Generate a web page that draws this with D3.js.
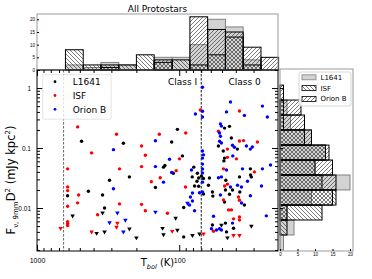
<!DOCTYPE html>
<html>
<head>
<meta charset="utf-8">
<script src="https://cdn.jsdelivr.net/npm/d3@7"></script>
<style>
body { margin: 0; background: #fff; }
svg { font-family: "DejaVu Sans", sans-serif; }
</style>
</head>
<body>
<svg width="372" height="279"></svg>
<script>
// [Tbol (K), F (mJy kpc^2)]
var l1641_det = [[486,0.13],[610,0.016],[435,0.019],[346,0.0165],[335,0.010],[309,0.029],[247,0.12],[224,0.033],[147,0.022],[129,0.048],[126,0.051],[113,0.126],[110,0.038],[103,0.205],[95,0.074],[93,0.0102],[93,0.0033],
  [44.3,0.23],[48,0.215],[43,0.147],[53,0.108],[39,0.096],[49,0.089],[48,0.068],[48.5,0.061],[79,0.048],[74.5,0.038],[81,0.033],[73,0.0316],[69.8,0.034],[75,0.028],[67.5,0.031],[61.3,0.0316],[31.6,0.045],[47,0.029],[37.7,0.033],[31.5,0.0355],[31.1,0.033],[78,0.0233],[73,0.023],[67.5,0.0171],[62.3,0.024],[58.4,0.0185],[58,0.0158],[47.3,0.02],[44.3,0.017],[42.2,0.02],[37.5,0.0185],[48,0.0126],[34.8,0.0112],[47.3,0.0056],[58.4,0.0052],[46.5,0.004],[41.5,0.0046]]
var l1641_lim = [[562,0.0074],[346,0.0083],[381,0.0038],[335,0.004],[224,0.0045],[200,0.0032],[131,0.0046],[129,0.0036],[106,0.0068],[103,0.0043],[80.7,0.0035],[72,0.0037],[50.5,0.0052],[31.1,0.005],[45.8,0.0032]]

var isf_det = [[518,0.225],[413,0.083],[609,0.045],[609,0.0225],[609,0.0195],[510,0.0165],[518,0.0122],[609,0.0107],[609,0.0059],[609,0.0055],[609,0.0051],[276,0.17],[263,0.045],[184,0.108],[173,0.076],[184,0.049],[157,0.0275],[138,0.17],[136,0.032],[263,0.0117],[184,0.0115],[173,0.009],[375,0.0077],[121,0.0082],[99.6,0.066],[105,0.042],[90,0.178],[90.4,0.0224],
  [71,0.43],[37.7,0.414],[53,0.19],[37.7,0.131],[35.3,0.133],[28.2,0.126],[45.8,0.096],[45.8,0.07],[39.6,0.066],[48.8,0.045],[29.6,0.04],[48,0.0233],[45.8,0.025],[48.8,0.0136],[38.3,0.0153],[37.7,0.0135],[45,0.0093],[42.9,0.0093],[41.5,0.0066],[37.7,0.0071],[37.7,0.0063],[57.4,0.0041]]
var isf_lim = [[682,0.0046],[413,0.004],[272,0.0056],[276,0.0048],[112,0.0041],[67.5,0.0037],[41.5,0.0035],[37.7,0.0035]]

var orionb_det = [[290,0.094],[290,0.021],[147,0.132],[147,0.049],[129,0.027],[117,0.065],[113,0.039],
  [68.6,1.03],[76.9,0.37],[68.6,0.41],[68.6,0.33],[43.6,0.585],[46.5,0.4],[34.8,0.35],[26,0.5],[24,0.33],[51.3,0.253],[50.5,0.232],[52.1,0.178],[51.3,0.157],[52,0.13],[50.5,0.121],[42.2,0.111],[40.9,0.103],[33.7,0.108],[31.6,0.096],[30.6,0.104],[68.6,0.089],[67.5,0.077],[42,0.074],[68.6,0.068],[68.6,0.054],[22.8,0.052],[82,0.043],[68.6,0.0447],[68.6,0.0383],[68.6,0.027],[35.9,0.045],[26,0.045],[46.5,0.043],[53,0.032],[50.5,0.033],[33.1,0.028],[72,0.018],[68.6,0.0185],[51.3,0.0165],[43.6,0.0224],[38.9,0.024],[36.5,0.0224],[26.4,0.0233],[80.7,0.0178],[83.4,0.0153],[80.7,0.0131],[84.7,0.0112],[78,0.009],[36.5,0.0121],[31.6,0.016],[24.4,0.0074],[57.4,0.0073],[42.2,0.0056],[59.3,0.0045],[54.7,0.0043],[52.1,0.0045],[50.5,0.0043]]
var orionb_lim = [[309,0.0057],[272,0.0083],[247,0.004],[239,0.0063],[147,0.0086],[87.5,0.0121]]

// Tbol histogram (top), bin edges in K, counts per bin
var tbol_edges = [631, 473, 355, 266, 200, 150, 112, 84.1, 63.1, 47.3, 35.5, 26.6, 20.0]
var tbol_l1641 = [2, 1, 3, 2, 0, 5, 5, 10, 20, 17, 4, 0]
var tbol_isf = [8, 2, 2, 2, 6, 3, 4, 2, 6, 13, 2, 0]
var tbol_orionb = [0, 0, 1, 0, 0, 4, 0, 21, 16, 15, 9, 5]

// flux histogram (right), bin edges in mJy kpc^2
var flux_edges = [1.12, 0.631, 0.355, 0.2, 0.112, 0.0631, 0.0355, 0.02, 0.0112, 0.00631, 0.00355, 0.002]
var flux_l1641 = [0, 2, 3, 9, 13, 10, 20, 9, 2, 4, 1]
var flux_isf = [0, 1, 1, 7, 13, 10, 12, 16, 12, 2, 0]
var flux_orionb = [1, 6, 7, 9, 14, 15, 16, 15, 2, 0, 0]

var x_major = [1000, 100]
var x_minor = [900, 800, 700, 600, 500, 400, 300, 200, 90, 80, 70, 60, 50, 40, 30]
var y_major = [1, 0.1, 0.01]
var y_minor = [2, 0.9, 0.8, 0.7, 0.6, 0.5, 0.4, 0.3, 0.2, 0.09, 0.08, 0.07, 0.06, 0.05, 0.04, 0.03, 0.02, 0.009, 0.008, 0.007, 0.006, 0.005, 0.004, 0.003, 0.002]
var y_labels = {1: '1', 0.1: '0.1', 0.01: '0.01'}
var count_ticks = [0, 5, 10, 15, 20]

var svg = d3.select('svg')
svg.append('rect').attr('width', 372).attr('height', 279).style('fill', 'white')

var defs = svg.append('defs')
function hatch(id, d) {
  defs.append('pattern').attr('id', id)
    .attr('patternUnits', 'userSpaceOnUse').attr('width', 4).attr('height', 4)
    .append('path').attr('d', d)
    .style('stroke', '#222').style('stroke-width', 0.6).style('fill', 'none')
}
hatch('back', 'M0,0L4,4M-1,3L1,5M3,-1L5,1')
hatch('fwd', 'M0,4L4,0M-1,1L1,-1M3,5L5,3')

var mapx = d3.scaleLog().domain([1000, 20.2]).range([37, 278])
var mapy = d3.scaleLog().domain([0.00192, 2.0]).range([251, 70])
var hy = d3.scaleLinear().domain([0, 22.1]).range([70, 14])
var hx = d3.scaleLinear().domain([0, 20]).range([280, 350])

var styles = [
  {name: 'L1641', fill: '#d3d3d3', stroke: '#808080', top: tbol_l1641, right: flux_l1641},
  {name: 'ISF', fill: 'url(#back)', stroke: 'black', top: tbol_isf, right: flux_isf},
  {name: 'Orion B', fill: 'url(#fwd)', stroke: 'black', top: tbol_orionb, right: flux_orionb}
]

// ---- top histogram
styles.forEach(function(s) {
  svg.append('g').selectAll('rect')
    .data(s.top.map(function(c, i) { return {c: c, i: i} }).filter(function(d) { return d.c > 0 }))
    .enter().append('rect')
    .attr('x', function(d) { return mapx(tbol_edges[d.i]) })
    .attr('width', function(d) { return mapx(tbol_edges[d.i + 1]) - mapx(tbol_edges[d.i]) })
    .attr('y', function(d) { return hy(d.c) })
    .attr('height', function(d) { return hy(0) - hy(d.c) })
    .style('fill', s.fill).style('stroke', s.stroke).style('stroke-width', 1)
})
svg.append('rect').attr('x', 37).attr('y', 14).attr('width', 241).attr('height', 56)
  .style('fill', 'none').style('stroke', '#999').style('stroke-width', 1)
var ta = svg.append('g').attr('transform', 'translate(37,0)')
  .call(d3.axisLeft(hy).tickValues(count_ticks).tickSize(-2).tickPadding(2))
ta.select('.domain').remove()
ta.selectAll('text').style('font-size', '4.5px')
svg.append('text').attr('x', 157.5).attr('y', 11.5).attr('text-anchor', 'middle')
  .style('font-size', '9px').text('All Protostars')

// ---- right histogram
styles.forEach(function(s) {
  svg.append('g').selectAll('rect')
    .data(s.right.map(function(c, i) { return {c: c, i: i} }).filter(function(d) { return d.c > 0 }))
    .enter().append('rect')
    .attr('y', function(d) { return mapy(flux_edges[d.i]) })
    .attr('height', function(d) { return mapy(flux_edges[d.i + 1]) - mapy(flux_edges[d.i]) })
    .attr('x', hx(0))
    .attr('width', function(d) { return hx(d.c) - hx(0) })
    .style('fill', s.fill).style('stroke', s.stroke).style('stroke-width', 1)
})
svg.append('rect').attr('x', 280).attr('y', 69).attr('width', 73).attr('height', 182)
  .style('fill', 'none').style('stroke', '#999').style('stroke-width', 1)
var ra = svg.append('g').attr('transform', 'translate(0,251)')
  .call(d3.axisBottom(hx).tickValues(count_ticks).tickSize(-2).tickPadding(2.3))
ra.select('.domain').remove()
ra.selectAll('text').style('font-size', '4.5px')
var rl = svg.append('g').attr('transform', 'translate(280,0)')
  .call(d3.axisLeft(mapy).tickValues(y_major).tickSize(-3).tickFormat(''))
rl.select('.domain').remove()

// right legend
var hl = svg.append('g')
hl.append('rect').attr('x', 299).attr('y', 72).attr('width', 52).attr('height', 34).attr('rx', 2)
  .style('fill', 'white').style('fill-opacity', 0.85).style('stroke', '#ccc').style('stroke-width', 0.8)
styles.forEach(function(s, i) {
  var yy = 77.3 + i * 10.8
  hl.append('rect').attr('x', 302).attr('y', yy - 2.5).attr('width', 14).attr('height', 5)
    .style('fill', s.fill).style('stroke', s.stroke).style('stroke-width', 0.8)
  hl.append('text').attr('x', 320.5).attr('y', yy + 2.4).style('font-size', '7px').text(s.name)
})

// ---- main scatter panel
var main = svg.append('g')
main.append('line').attr('x1', mapx(650)).attr('x2', mapx(650)).attr('y1', 70).attr('y2', 251)
  .style('stroke', '#555').style('stroke-width', 0.9).style('stroke-dasharray', '2.5,1.5')
main.append('line').attr('x1', mapx(70)).attr('x2', mapx(70)).attr('y1', 70).attr('y2', 251)
  .style('stroke', 'black').style('stroke-width', 0.9).style('stroke-dasharray', '2.5,1.5')

var groups = [
  {name: 'L1641', color: 'black', det: l1641_det, lim: l1641_lim},
  {name: 'ISF', color: 'red', det: isf_det, lim: isf_lim},
  {name: 'Orion B', color: 'blue', det: orionb_det, lim: orionb_lim}
]
var tri = d3.symbol().type(d3.symbolTriangle).size(9)
groups.forEach(function(g) {
  main.append('g').selectAll('circle').data(g.det).enter().append('circle')
    .attr('cx', function(d) { return mapx(d[0]) })
    .attr('cy', function(d) { return mapy(d[1]) })
    .attr('r', 1.7).style('fill', g.color)
  main.append('g').selectAll('path').data(g.lim).enter().append('path')
    .attr('d', tri)
    .attr('transform', function(d) { return 'translate(' + mapx(d[0]) + ',' + mapy(d[1]) + ') rotate(180)' })
    .style('fill', g.color)
})

main.append('rect').attr('x', 37).attr('y', 70).attr('width', 241).attr('height', 181)
  .style('fill', 'none').style('stroke', 'black').style('stroke-width', 1)

function ticks(axis, tr, vals, size, fmt, pad) {
  var g = svg.append('g').attr('transform', tr)
    .call(axis.tickValues(vals).tickSize(-size).tickPadding(pad).tickFormat(fmt))
  g.select('.domain').remove()
  return g
}
var xb = ticks(d3.axisBottom(mapx), 'translate(0,251)', x_major, 6, d3.format('d'), 7)
xb.selectAll('text').style('font-size', '7px')
ticks(d3.axisBottom(mapx), 'translate(0,251)', x_minor, 3, '', 3)
ticks(d3.axisTop(mapx), 'translate(0,70)', x_major, 6, '', 3)
ticks(d3.axisTop(mapx), 'translate(0,70)', x_minor, 3, '', 3)
var yl = ticks(d3.axisLeft(mapy), 'translate(37,0)', y_major, 6, function(d) { return y_labels[d] }, 6)
yl.selectAll('text').style('font-size', '6.5px')
ticks(d3.axisLeft(mapy), 'translate(37,0)', y_minor, 3, '', 3)
ticks(d3.axisRight(mapy), 'translate(278,0)', y_major, 6, '', 3)
ticks(d3.axisRight(mapy), 'translate(278,0)', y_minor, 3, '', 3)

main.append('text').attr('x', mapx(120)).attr('y', mapy(1.14)).style('font-size', '9px').text('Class I')
main.append('text').attr('x', mapx(45)).attr('y', mapy(1.14)).style('font-size', '9px').text('Class 0')

// scatter legend
var lg = svg.append('g')
lg.append('rect').attr('x', 42.7).attr('y', 74.7).attr('width', 68.5).attr('height', 44.5).attr('rx', 2)
  .style('fill', 'white').style('fill-opacity', 0.8).style('stroke', '#ddd').style('stroke-width', 0.8)
groups.forEach(function(g, i) {
  var yy = 81.7 + i * 13.8
  lg.append('circle').attr('cx', 55).attr('cy', yy).attr('r', 1.4).style('fill', g.color)
  lg.append('text').attr('x', 72.7).attr('y', yy + 3.3).style('font-size', '9px').text(g.name)
})

// axis labels
var xl = svg.append('text').attr('x', 157.5).attr('y', 266).attr('text-anchor', 'middle').style('font-size', '10px')
xl.append('tspan').text('T')
xl.append('tspan').attr('dy', 2.5).style('font-size', '6.5px').style('font-style', 'italic').text('bol')
xl.append('tspan').attr('dy', -2.5).text(' (K)')

var ylab = svg.append('text').attr('transform', 'translate(14.5,180) rotate(-90)')
  .attr('text-anchor', 'middle').style('font-size', '11.5px')
ylab.append('tspan').text('F')
ylab.append('tspan').attr('dy', 3).style('font-size', '7px').text('\u03bd, 9mm')
ylab.append('tspan').attr('dy', -3).text('D')
ylab.append('tspan').attr('dy', -5).style('font-size', '7px').text('2')
ylab.append('tspan').attr('dy', 5).text(' (mJy kpc')
ylab.append('tspan').attr('dy', -5).style('font-size', '7px').text('2')
ylab.append('tspan').attr('dy', 5).text(')')
</script>
</body>
</html>
